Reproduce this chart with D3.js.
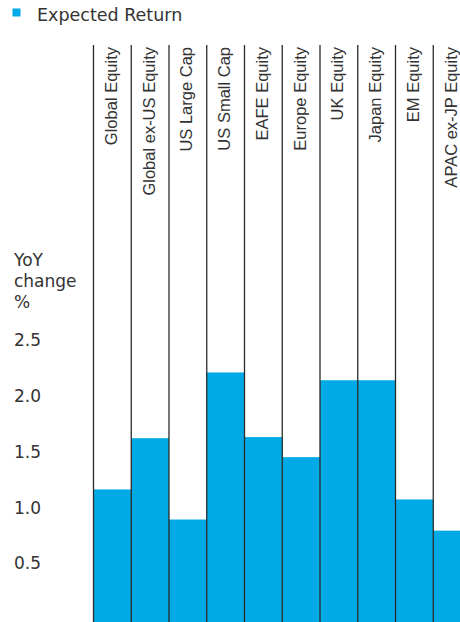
<!DOCTYPE html>
<html>
<head>
<meta charset="utf-8">
<script src="https://cdn.jsdelivr.net/npm/d3@7"></script>
<style>
  html, body { margin: 0; padding: 0; background: #fff; }
  svg { display: block; }
</style>
</head>
<body>
<svg id="chart" width="460" height="622"></svg>
<script>
// Asset classes and their expected-return change (YoY, %)
const categories = [
  "Global Equity", "Global ex-US Equity", "US Large Cap", "US Small Cap",
  "EAFE Equity", "Europe Equity", "UK Equity", "Japan Equity",
  "EM Equity", "APAC ex-JP Equity"
];
const expectedReturn = [1.19, 1.65, 0.92, 2.24, 1.66, 1.48, 2.17, 2.17, 1.10, 0.82];
const yTicks = [0.5, 1.0, 1.5, 2.0, 2.5];
const yTickLabels = ["0.5", "1.0", "1.5", "2.0", "2.5"];
const yTitle = ["YoY", "change", "%"];
const seriesName = "Expected Return";

const W = 460, H = 622;
const barColor = "#00aae6";
const ink = "#333333";
const axisFont = "DejaVu Sans";
const catFont = "Liberation Sans";

const svg = d3.select("#chart");

// Bands run edge to edge; the plot extends a little past the right edge
const x = d3.scaleBand().domain(categories).range([93.5, 471]).padding(0);
const y = d3.scaleLinear().domain([0, 2.5]).range([H, 343.5]);
const plotTop = 45;

// Bars
svg.append("g").selectAll("rect")
  .data(categories)
  .join("rect")
  .attr("x", d => x(d))
  .attr("width", x.bandwidth())
  .attr("y", (d, i) => y(expectedReturn[i]))
  .attr("height", (d, i) => y(0) - y(expectedReturn[i]))
  .attr("fill", barColor);

// Band dividers
svg.append("g").selectAll("line")
  .data(categories)
  .join("line")
  .attr("x1", d => x(d)).attr("x2", d => x(d))
  .attr("y1", plotTop).attr("y2", H)
  .attr("stroke", "#2a2a2a")
  .attr("stroke-width", 1.3);

// Category labels, reading upward from the top of each band
svg.append("g").selectAll("text")
  .data(categories)
  .join("text")
  .attr("transform", d => `translate(${x(d) + x.bandwidth() / 2 + 4.5},${plotTop + 2}) rotate(-90)`)
  .attr("text-anchor", "end")
  .attr("font-family", catFont)
  .attr("font-size", 16.5)
  .attr("fill", ink)
  .text(d => d);

// Y axis tick labels
const yAxis = d3.axisLeft(y)
  .tickValues(yTicks)
  .tickFormat((d, i) => yTickLabels[i])
  .tickSize(0);
const ya = svg.append("g").attr("transform", "translate(14,0)").call(yAxis);
ya.select(".domain").remove();
ya.selectAll("text")
  .attr("x", 0)
  .attr("dy", "0.32em")
  .attr("transform", "translate(0,-3)")
  .attr("text-anchor", "start")
  .attr("font-family", axisFont)
  .attr("font-size", 17)
  .attr("fill", ink);

// Y title
svg.append("text")
  .attr("font-family", axisFont)
  .attr("font-size", 17)
  .attr("fill", ink)
  .selectAll("tspan")
  .data(yTitle)
  .join("tspan")
  .attr("x", 14)
  .attr("y", (d, i) => 266 + i * 21)
  .text(d => d);

// Legend
const lg = svg.append("g");
lg.append("rect").attr("x", 12.5).attr("y", 8.5).attr("width", 8).attr("height", 8).attr("fill", barColor);
lg.append("text")
  .attr("x", 37).attr("y", 21)
  .attr("font-family", axisFont)
  .attr("font-size", 17.5)
  .attr("fill", ink)
  .text(seriesName);
</script>
</body>
</html>
